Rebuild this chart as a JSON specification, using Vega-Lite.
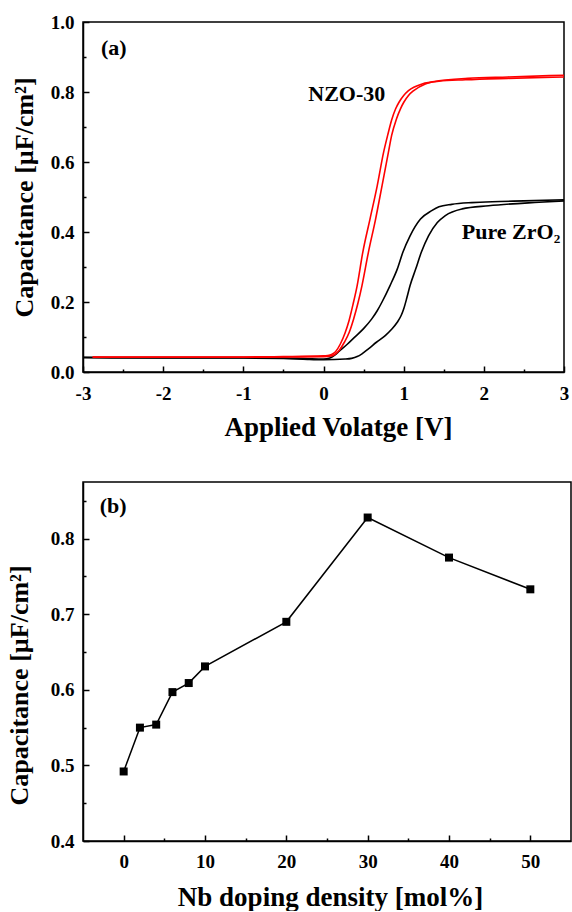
{
  "$schema": "https://vega.github.io/schema/vega-lite/v6.json",
  "background": "white",
  "padding": {"left": 5, "top": 12, "right": 0, "bottom": 0},
  "spacing": 40,
  "config": {
    "font": "Liberation Serif",
    "view": {"stroke": "black", "strokeWidth": 1.5},
    "axis": {
      "grid": false,
      "domainColor": "black",
      "domainWidth": 1.5,
      "tickColor": "black",
      "tickWidth": 1.5,
      "labelFont": "Liberation Serif",
      "labelFontWeight": "bold",
      "labelFontSize": 19,
      "labelColor": "black",
      "labelOverlap": false,
      "labelFlush": false,
      "titleFont": "Liberation Serif",
      "titleFontWeight": "bold",
      "titleColor": "black"
    }
  },
  "datasets": {
    "cv": [
      {"s": "ZrO2", "b": "f", "V": -3, "C": 0.042},
      {"s": "ZrO2", "b": "f", "V": -2, "C": 0.041},
      {"s": "ZrO2", "b": "f", "V": -1, "C": 0.041},
      {"s": "ZrO2", "b": "f", "V": -0.5, "C": 0.04},
      {"s": "ZrO2", "b": "f", "V": -0.2, "C": 0.038},
      {"s": "ZrO2", "b": "f", "V": 0, "C": 0.037},
      {"s": "ZrO2", "b": "f", "V": 0.08, "C": 0.04},
      {"s": "ZrO2", "b": "f", "V": 0.14, "C": 0.048},
      {"s": "ZrO2", "b": "f", "V": 0.2, "C": 0.06},
      {"s": "ZrO2", "b": "f", "V": 0.3, "C": 0.08},
      {"s": "ZrO2", "b": "f", "V": 0.4, "C": 0.102},
      {"s": "ZrO2", "b": "f", "V": 0.5, "C": 0.124},
      {"s": "ZrO2", "b": "f", "V": 0.6, "C": 0.151},
      {"s": "ZrO2", "b": "f", "V": 0.67, "C": 0.175},
      {"s": "ZrO2", "b": "f", "V": 0.73, "C": 0.2},
      {"s": "ZrO2", "b": "f", "V": 0.83, "C": 0.247},
      {"s": "ZrO2", "b": "f", "V": 0.92, "C": 0.294},
      {"s": "ZrO2", "b": "f", "V": 0.99, "C": 0.342},
      {"s": "ZrO2", "b": "f", "V": 1.08, "C": 0.389},
      {"s": "ZrO2", "b": "f", "V": 1.21, "C": 0.437},
      {"s": "ZrO2", "b": "f", "V": 1.35, "C": 0.461},
      {"s": "ZrO2", "b": "f", "V": 1.44, "C": 0.472},
      {"s": "ZrO2", "b": "f", "V": 1.6, "C": 0.479},
      {"s": "ZrO2", "b": "f", "V": 1.85, "C": 0.484},
      {"s": "ZrO2", "b": "f", "V": 2.2, "C": 0.487},
      {"s": "ZrO2", "b": "f", "V": 2.5, "C": 0.489},
      {"s": "ZrO2", "b": "f", "V": 3, "C": 0.492},
      {"s": "ZrO2", "b": "r", "V": -3, "C": 0.041},
      {"s": "ZrO2", "b": "r", "V": -2, "C": 0.04},
      {"s": "ZrO2", "b": "r", "V": -1, "C": 0.04},
      {"s": "ZrO2", "b": "r", "V": -0.5, "C": 0.039},
      {"s": "ZrO2", "b": "r", "V": -0.2, "C": 0.036},
      {"s": "ZrO2", "b": "r", "V": 0, "C": 0.035},
      {"s": "ZrO2", "b": "r", "V": 0.27, "C": 0.037},
      {"s": "ZrO2", "b": "r", "V": 0.35, "C": 0.039},
      {"s": "ZrO2", "b": "r", "V": 0.42, "C": 0.044},
      {"s": "ZrO2", "b": "r", "V": 0.48, "C": 0.052},
      {"s": "ZrO2", "b": "r", "V": 0.56, "C": 0.066},
      {"s": "ZrO2", "b": "r", "V": 0.66, "C": 0.085},
      {"s": "ZrO2", "b": "r", "V": 0.77, "C": 0.104},
      {"s": "ZrO2", "b": "r", "V": 0.85, "C": 0.122},
      {"s": "ZrO2", "b": "r", "V": 0.92, "C": 0.142},
      {"s": "ZrO2", "b": "r", "V": 0.97, "C": 0.162},
      {"s": "ZrO2", "b": "r", "V": 1.0, "C": 0.18},
      {"s": "ZrO2", "b": "r", "V": 1.04, "C": 0.212},
      {"s": "ZrO2", "b": "r", "V": 1.08, "C": 0.247},
      {"s": "ZrO2", "b": "r", "V": 1.15, "C": 0.294},
      {"s": "ZrO2", "b": "r", "V": 1.22, "C": 0.342},
      {"s": "ZrO2", "b": "r", "V": 1.31, "C": 0.389},
      {"s": "ZrO2", "b": "r", "V": 1.42, "C": 0.427},
      {"s": "ZrO2", "b": "r", "V": 1.52, "C": 0.447},
      {"s": "ZrO2", "b": "r", "V": 1.73, "C": 0.466},
      {"s": "ZrO2", "b": "r", "V": 2.06, "C": 0.475},
      {"s": "ZrO2", "b": "r", "V": 2.69, "C": 0.485},
      {"s": "ZrO2", "b": "r", "V": 3, "C": 0.489},
      {"s": "NZO-30", "b": "f", "V": -2.88, "C": 0.043},
      {"s": "NZO-30", "b": "f", "V": -2, "C": 0.043},
      {"s": "NZO-30", "b": "f", "V": -1, "C": 0.043},
      {"s": "NZO-30", "b": "f", "V": -0.5, "C": 0.044},
      {"s": "NZO-30", "b": "f", "V": 0, "C": 0.046},
      {"s": "NZO-30", "b": "f", "V": 0.05, "C": 0.047},
      {"s": "NZO-30", "b": "f", "V": 0.1, "C": 0.05},
      {"s": "NZO-30", "b": "f", "V": 0.15, "C": 0.058},
      {"s": "NZO-30", "b": "f", "V": 0.21, "C": 0.08},
      {"s": "NZO-30", "b": "f", "V": 0.27, "C": 0.112},
      {"s": "NZO-30", "b": "f", "V": 0.32, "C": 0.148},
      {"s": "NZO-30", "b": "f", "V": 0.37, "C": 0.195},
      {"s": "NZO-30", "b": "f", "V": 0.42, "C": 0.247},
      {"s": "NZO-30", "b": "f", "V": 0.49, "C": 0.342},
      {"s": "NZO-30", "b": "f", "V": 0.58, "C": 0.437},
      {"s": "NZO-30", "b": "f", "V": 0.67, "C": 0.532},
      {"s": "NZO-30", "b": "f", "V": 0.75, "C": 0.628},
      {"s": "NZO-30", "b": "f", "V": 0.8, "C": 0.676},
      {"s": "NZO-30", "b": "f", "V": 0.85, "C": 0.72},
      {"s": "NZO-30", "b": "f", "V": 0.9, "C": 0.752},
      {"s": "NZO-30", "b": "f", "V": 0.94, "C": 0.77},
      {"s": "NZO-30", "b": "f", "V": 1.0, "C": 0.79},
      {"s": "NZO-30", "b": "f", "V": 1.06, "C": 0.804},
      {"s": "NZO-30", "b": "f", "V": 1.14, "C": 0.815},
      {"s": "NZO-30", "b": "f", "V": 1.23, "C": 0.823},
      {"s": "NZO-30", "b": "f", "V": 1.44, "C": 0.831},
      {"s": "NZO-30", "b": "f", "V": 1.77, "C": 0.835},
      {"s": "NZO-30", "b": "f", "V": 2.3, "C": 0.839},
      {"s": "NZO-30", "b": "f", "V": 3, "C": 0.843},
      {"s": "NZO-30", "b": "r", "V": -2.88, "C": 0.042},
      {"s": "NZO-30", "b": "r", "V": -2, "C": 0.042},
      {"s": "NZO-30", "b": "r", "V": -1, "C": 0.042},
      {"s": "NZO-30", "b": "r", "V": -0.5, "C": 0.043},
      {"s": "NZO-30", "b": "r", "V": 0, "C": 0.044},
      {"s": "NZO-30", "b": "r", "V": 0.1, "C": 0.046},
      {"s": "NZO-30", "b": "r", "V": 0.14, "C": 0.05},
      {"s": "NZO-30", "b": "r", "V": 0.2, "C": 0.063},
      {"s": "NZO-30", "b": "r", "V": 0.26, "C": 0.085},
      {"s": "NZO-30", "b": "r", "V": 0.32, "C": 0.113},
      {"s": "NZO-30", "b": "r", "V": 0.375, "C": 0.151},
      {"s": "NZO-30", "b": "r", "V": 0.43, "C": 0.197},
      {"s": "NZO-30", "b": "r", "V": 0.48, "C": 0.247},
      {"s": "NZO-30", "b": "r", "V": 0.56, "C": 0.342},
      {"s": "NZO-30", "b": "r", "V": 0.65, "C": 0.437},
      {"s": "NZO-30", "b": "r", "V": 0.73, "C": 0.532},
      {"s": "NZO-30", "b": "r", "V": 0.81, "C": 0.628},
      {"s": "NZO-30", "b": "r", "V": 0.85, "C": 0.676},
      {"s": "NZO-30", "b": "r", "V": 0.91, "C": 0.723},
      {"s": "NZO-30", "b": "r", "V": 0.96, "C": 0.752},
      {"s": "NZO-30", "b": "r", "V": 1.0, "C": 0.77},
      {"s": "NZO-30", "b": "r", "V": 1.06, "C": 0.79},
      {"s": "NZO-30", "b": "r", "V": 1.125, "C": 0.804},
      {"s": "NZO-30", "b": "r", "V": 1.27, "C": 0.823},
      {"s": "NZO-30", "b": "r", "V": 1.44, "C": 0.832},
      {"s": "NZO-30", "b": "r", "V": 1.8, "C": 0.839},
      {"s": "NZO-30", "b": "r", "V": 2.3, "C": 0.843},
      {"s": "NZO-30", "b": "r", "V": 3, "C": 0.848}
    ],
    "labA": [
      {"t": "(a)", "V": -2.775, "C": 0.906},
      {"t": "NZO-30", "V": -0.19, "C": 0.775},
      {"t": "Pure ZrO₂", "V": 1.725, "C": 0.38}
    ],
    "dop": [
      {"nb": 0, "C": 0.492},
      {"nb": 2, "C": 0.55},
      {"nb": 4, "C": 0.554},
      {"nb": 6, "C": 0.597},
      {"nb": 8, "C": 0.609},
      {"nb": 10, "C": 0.631},
      {"nb": 20, "C": 0.69},
      {"nb": 30, "C": 0.828},
      {"nb": 40, "C": 0.775},
      {"nb": 50, "C": 0.733}
    ],
    "labB": [
      {"t": "(b)", "nb": -2.94, "C": 0.8334}
    ]
  },
  "vconcat": [
    {
      "width": 481,
      "height": 350,
      "encoding": {
        "x": {
          "field": "V", "type": "quantitative",
          "scale": {"domain": [-3, 3], "nice": false, "zero": false},
          "axis": {
            "values": [-3, -2.5, -2, -1.5, -1, -0.5, 0, 0.5, 1, 1.5, 2, 2.5, 3],
            "labelExpr": "datum.value % 1 === 0 ? '' + datum.value : ''",
            "tickSize": {"condition": {"test": "datum.value % 1 === 0", "value": -6}, "value": -3},
            "labelPadding": 18,
            "labelFont": "Liberation Serif",
            "labelFontWeight": "bold",
            "labelFontSize": 19,
            "title": "Applied Volatge [V]",
            "titleFontSize": 27,
            "titleX": 255,
            "titlePadding": 8
          }
        },
        "y": {
          "field": "C", "type": "quantitative",
          "scale": {"domain": [0, 1], "nice": false, "zero": false},
          "axis": {
            "values": [0, 0.1, 0.2, 0.3, 0.4, 0.5, 0.6, 0.7, 0.8, 0.9, 1.0],
            "labelExpr": "round(datum.value * 10) % 2 === 0 ? format(datum.value, '.1f') : ''",
            "tickSize": {"condition": {"test": "round(datum.value * 10) % 2 === 0", "value": -6}, "value": -3},
            "labelPadding": 15,
            "labelFont": "Liberation Serif",
            "labelFontWeight": "bold",
            "labelFontSize": 19,
            "title": "Capacitance [µF/cm²]",
            "titleFontSize": 26,
            "titlePadding": 13
          }
        }
      },
      "layer": [
        {
          "data": {"name": "cv"},
          "mark": {"type": "line", "strokeWidth": 1.6, "interpolate": "monotone"},
          "encoding": {
            "color": {
              "field": "s", "type": "nominal",
              "scale": {"domain": ["ZrO2", "NZO-30"], "range": ["#000000", "#ff0000"]},
              "legend": null
            },
            "detail": {"field": "b"}
          }
        },
        {
          "data": {"name": "labA"},
          "mark": {"type": "text", "align": "left", "baseline": "alphabetic", "font": "Liberation Serif", "fontWeight": "bold", "fontSize": 22, "color": "black"},
          "encoding": {"text": {"field": "t"}}
        }
      ]
    },
    {
      "width": 488,
      "height": 359,
      "encoding": {
        "x": {
          "field": "nb", "type": "quantitative",
          "scale": {"domain": [-5, 55], "nice": false, "zero": false},
          "axis": {
            "values": [0, 5, 10, 15, 20, 25, 30, 35, 40, 45, 50],
            "labelExpr": "datum.value % 10 === 0 ? '' + datum.value : ''",
            "tickSize": {"condition": {"test": "datum.value % 10 === 0", "value": -6}, "value": -3},
            "labelPadding": 17,
            "labelFont": "Liberation Serif",
            "labelFontWeight": "bold",
            "labelFontSize": 19,
            "title": "Nb doping density [mol%]",
            "titleFontSize": 27,
            "titleX": 247,
            "titlePadding": 10
          }
        },
        "y": {
          "field": "C", "type": "quantitative",
          "scale": {"domain": [0.4, 0.875], "nice": false, "zero": false},
          "axis": {
            "values": [0.4, 0.45, 0.5, 0.55, 0.6, 0.65, 0.7, 0.75, 0.8, 0.85],
            "labelExpr": "round(datum.value * 100) % 10 === 0 ? format(datum.value, '.1f') : ''",
            "tickSize": {"condition": {"test": "round(datum.value * 100) % 10 === 0", "value": -6}, "value": -3},
            "labelPadding": 15,
            "labelFont": "Liberation Serif",
            "labelFontWeight": "bold",
            "labelFontSize": 19,
            "title": "Capacitance [µF/cm²]",
            "titleFontSize": 26,
            "titlePadding": 18,
            "titleY": 203
          }
        }
      },
      "layer": [
        {
          "data": {"name": "dop"},
          "mark": {"type": "line", "color": "black", "strokeWidth": 1.5},
          "encoding": {}
        },
        {
          "data": {"name": "dop"},
          "mark": {"type": "point", "shape": "square", "filled": true, "size": 64, "color": "black", "opacity": 1},
          "encoding": {}
        },
        {
          "data": {"name": "labB"},
          "mark": {"type": "text", "align": "left", "baseline": "alphabetic", "font": "Liberation Serif", "fontWeight": "bold", "fontSize": 22, "color": "black"},
          "encoding": {"text": {"field": "t"}}
        }
      ]
    }
  ]
}
